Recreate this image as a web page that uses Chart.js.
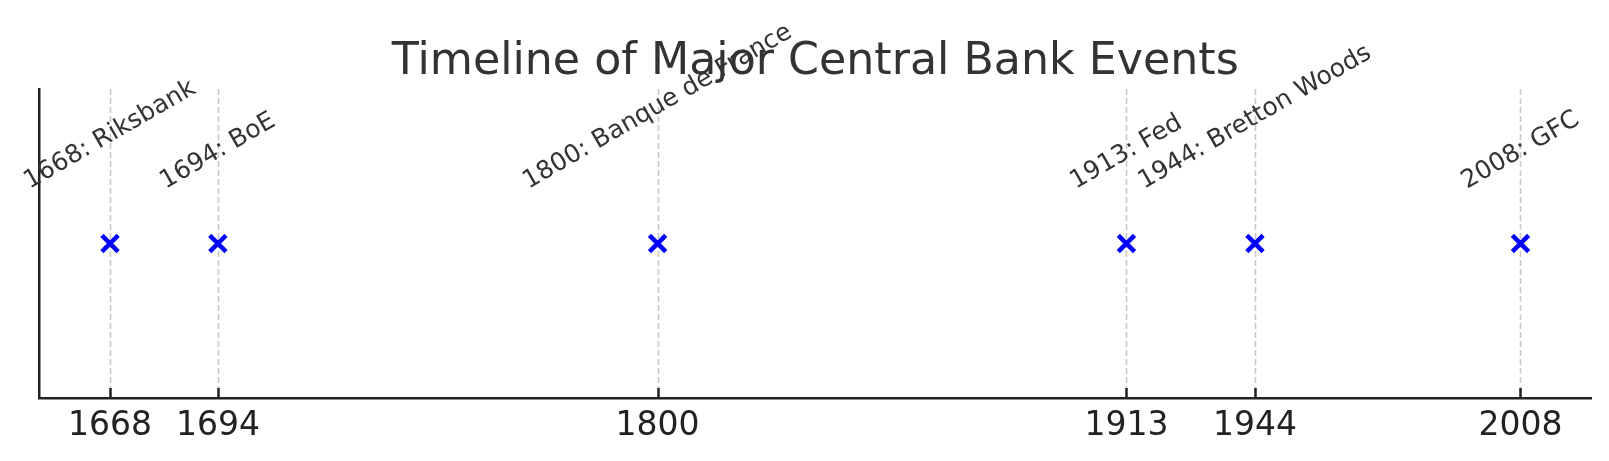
<!DOCTYPE html>
<html>
<head>
<meta charset="utf-8">
<script src="https://cdn.jsdelivr.net/npm/chart.js@4/dist/chart.umd.min.js"></script>
<style>
html,body{margin:0;padding:0;background:#fff;}
#wrap{width:1609px;height:461px;}
</style>
</head>
<body>
<div id="wrap"><canvas id="c" width="1609" height="461"></canvas></div>
<script>
const years = [1668, 1694, 1800, 1913, 1944, 2008];
const eventLabels = ['1668: Riksbank', '1694: BoE', '1800: Banque de France', '1913: Fed', '1944: Bretton Woods', '2008: GFC'];
const markerLevel = [1, 1, 1, 1, 1, 1];
const labelLevel = 1.154;
const xRange = [1651, 2025];
const yRange = [0.5, 1.5];
const chartTitle = 'Timeline of Major Central Bank Events';

const FONT = "'DejaVu Sans', 'Liberation Sans', sans-serif";

const decor = {
  id: 'decor',
  beforeDatasetsDraw(chart) {
    const ctx = chart.ctx, xs = chart.scales.x, a = chart.chartArea;
    ctx.save();
    ctx.strokeStyle = '#c8c8c8';
    ctx.lineWidth = 1.6;
    ctx.setLineDash([6, 3]);
    years.forEach(v => {
      const px = Math.round(xs.getPixelForValue(v)) + 0.5;
      ctx.beginPath();
      ctx.moveTo(px, a.top);
      ctx.lineTo(px, a.bottom);
      ctx.stroke();
    });
    ctx.restore();
  },
  afterDraw(chart) {
    const ctx = chart.ctx, xs = chart.scales.x, ys = chart.scales.y, a = chart.chartArea;
    ctx.save();
    // inward tick marks
    ctx.strokeStyle = '#222';
    ctx.lineWidth = 2.5;
    years.forEach(v => {
      const px = Math.round(xs.getPixelForValue(v)) + 0.5;
      ctx.beginPath();
      ctx.moveTo(px, a.bottom);
      ctx.lineTo(px, a.bottom - 10);
      ctx.stroke();
    });
    // title
    ctx.fillStyle = '#333';
    ctx.font = '44.3px ' + FONT;
    ctx.textAlign = 'center';
    ctx.textBaseline = 'alphabetic';
    ctx.fillText(chartTitle, (a.left + a.right) / 2, 74);
    // event labels
    const fs = 25;
    ctx.font = fs + 'px ' + FONT;
    ctx.fillStyle = '#333';
    ctx.textBaseline = 'middle';
    const ang = Math.PI / 6;
    years.forEach((v, i) => {
      const txt = eventLabels[i];
      const w = ctx.measureText(txt).width;
      const h = fs * 1.17;
      const H = w * Math.sin(ang) + h * Math.cos(ang);
      const cx = xs.getPixelForValue(v);
      const bottom = ys.getPixelForValue(labelLevel);
      const cy = bottom - H / 2;
      ctx.save();
      ctx.translate(cx, cy);
      ctx.rotate(-ang);
      ctx.fillText(txt, 0, 0);
      ctx.restore();
    });
    ctx.restore();
  }
};

new Chart(document.getElementById('c'), {
  type: 'scatter',
  data: {
    datasets: [{
      data: years.map((y, i) => ({ x: y, y: markerLevel[i] })),
      pointStyle: 'crossRot',
      pointRadius: 11.5,
      pointHoverRadius: 11.5,
      borderWidth: 4.5,
      borderColor: '#0000ff',
      backgroundColor: '#0000ff'
    }]
  },
  options: {
    responsive: false,
    devicePixelRatio: 1,
    animation: false,
    events: [],
    layout: { padding: { left: 0, right: 18, top: 89, bottom: 0 } },
    plugins: { legend: { display: false }, tooltip: { enabled: false }, title: { display: false } },
    scales: {
      x: {
        type: 'linear',
        min: xRange[0],
        max: xRange[1],
        afterBuildTicks: s => { s.ticks = years.map(v => ({ value: v })); },
        afterFit: s => { s.height = 63; },
        grid: { display: false, drawTicks: false },
        border: { display: true, color: '#222', width: 2.5 },
        ticks: {
          autoSkip: false,
          maxRotation: 0,
          padding: 9,
          color: '#222',
          font: { family: FONT, size: 33 },
          callback: v => String(v)
        }
      },
      y: {
        min: yRange[0],
        max: yRange[1],
        afterFit: s => { s.width = 39.5; },
        grid: { display: false, drawTicks: false },
        border: { display: true, color: '#222', width: 2.5 },
        ticks: { display: false }
      }
    }
  },
  plugins: [decor]
});
</script>
</body>
</html>
